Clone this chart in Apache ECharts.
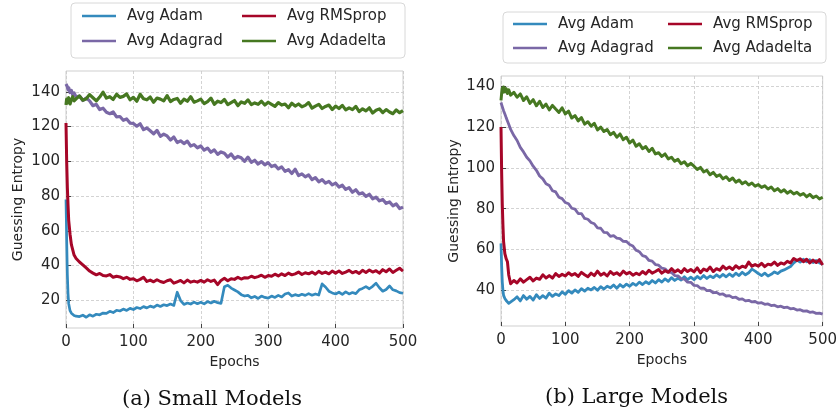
<!DOCTYPE html>
<html>
<head>
<meta charset="utf-8">
<title>Guessing Entropy per optimizer</title>
<script src="https://cdn.jsdelivr.net/npm/echarts@6/dist/echarts.min.js"></script>
<style>
  html, body { margin: 0; padding: 0; background: #fff; }
  #chart { width: 840px; height: 420px; }
</style>
</head>
<body>
<div id="chart"></div>
<script>
// Epochs sampled for every curve (dense at the start where the drop happens)
const epochs = [0, 1, 2, 3, 4, 6, 8, 10, 12, 15,
  20, 25, 30, 35, 40, 45, 50, 55, 60, 65, 70, 75, 80, 85, 90, 95,
  100, 105, 110, 115, 120, 125, 130, 135, 140, 145, 150, 155, 160, 165, 170, 175, 180, 185, 190, 195,
  200, 205, 210, 215, 220, 225, 230, 235, 240, 245, 250, 255, 260, 265, 270, 275, 280, 285, 290, 295,
  300, 305, 310, 315, 320, 325, 330, 335, 340, 345, 350, 355, 360, 365, 370, 375, 380, 385, 390, 395,
  400, 405, 410, 415, 420, 425, 430, 435, 440, 445, 450, 455, 460, 465, 470, 475, 480, 485, 490, 495, 500];

const seriesNames = ['Avg Adam', 'Avg Adagrad', 'Avg RMSprop', 'Avg Adadelta'];
const seriesColors = ['#348ABD', '#7A68A6', '#A60628', '#467821'];
const yTicks = [20, 40, 60, 80, 100, 120, 140];
const xTicks = [0, 100, 200, 300, 400, 500];
const captions = ['(a) Small Models', '(b) Large Models'];

// (a) Small models
const smallAdam = [78, 55, 35, 24, 18, 14, 12.5, 11.8, 11.2, 10.8,
  10.6, 11.4, 10.2, 11.6, 10.8, 11.9, 11.6, 12.6, 12.4, 13.6, 12.9, 14.2, 13.8, 14.9, 14.1, 15.3,
  14.6, 15.8, 15.2, 16.3, 15.6, 16.6, 15.9, 17.2, 16.4, 17.4, 16.9, 17.8, 17.0, 24.6, 19.8, 17.6, 18.4, 17.8, 18.9, 18.0,
  18.8, 17.9, 19.2, 18.4, 19.4, 18.6, 18.2, 27.8, 28.6, 27.0, 25.9, 24.8, 23.2, 22.4, 22.8, 21.4, 22.2, 21.0, 22.4, 21.6,
  21.2, 22.4, 21.6, 22.8, 21.9, 23.6, 24.2, 22.4, 23.2, 22.6, 23.4, 22.8, 23.8, 22.9, 23.6, 23.0, 29.4, 27.6, 25.2, 24.2,
  23.6, 24.6, 23.4, 24.8, 23.6, 24.4, 23.8, 26.0, 26.8, 27.8, 26.6, 28.0, 29.8, 27.2, 25.2, 26.2, 28.2, 26.0, 25.4, 24.4, 24.0];

const smallAdagrad = [144.5, 145.5, 143.0, 141.2, 142.4, 139.6, 140.8, 138.2, 139.4, 137.0,
  137.6, 135.0, 136.4, 134.8, 132.0, 132.8, 129.8, 130.6, 128.2, 127.4, 128.4, 125.6, 125.8, 123.6, 124.4, 122.0,
  121.8, 120.2, 121.6, 118.2, 119.2, 117.6, 115.8, 117.8, 114.4, 115.6, 114.6, 112.2, 114.0, 110.8, 111.8, 110.2, 111.6, 108.8, 109.6, 107.8,
  108.8, 106.4, 107.6, 105.2, 106.6, 104.0, 105.4, 104.6, 102.4, 104.2, 101.6, 102.8, 102.0, 100.0, 102.4, 99.4, 100.6, 98.4, 99.8, 98.0,
  99.2, 97.0, 97.8, 95.6, 96.8, 94.2, 95.2, 93.0, 95.4, 91.8, 92.8, 91.0, 92.2, 89.4, 90.6, 88.2, 89.4, 87.4, 88.4, 86.4,
  87.4, 85.2, 86.2, 83.8, 84.8, 82.2, 83.6, 81.2, 81.8, 79.8, 81.0, 78.4, 79.4, 77.2, 78.0, 75.8, 76.6, 74.4, 75.4, 72.8, 73.6];

const smallRMSprop = [122, 100, 85, 75, 66, 58, 52, 49, 46, 44,
  42.0, 40.4, 38.6, 36.8, 35.6, 34.6, 35.4, 34.2, 34.0, 34.8, 33.2, 33.8, 33.4, 32.4, 33.2, 32.0,
  32.4, 31.2, 32.0, 33.2, 30.8, 31.6, 30.6, 31.8, 30.8, 30.2, 31.2, 31.8, 29.8, 30.6, 31.4, 30.0, 31.6, 30.4, 31.0, 30.4,
  31.4, 30.4, 31.8, 30.8, 31.6, 29.0, 31.4, 32.6, 31.2, 32.4, 32.0, 33.2, 32.2, 33.0, 32.8, 33.8, 33.0, 33.6, 34.4, 33.2,
  34.2, 33.8, 35.0, 34.0, 35.2, 34.2, 35.6, 34.6, 35.2, 36.2, 34.8, 35.8, 35.2, 36.2, 35.0, 36.6, 35.4, 36.2, 35.2, 36.8,
  35.6, 36.8, 35.4, 36.2, 37.2, 35.8, 36.6, 35.4, 37.2, 36.0, 37.4, 36.2, 37.0, 35.6, 37.6, 36.4, 38.0, 36.0, 37.2, 38.4, 36.8];

const smallAdadelta = [132.4, 135.8, 133.6, 134.2, 136.6, 133.0, 135.4, 137.2, 134.8, 136.0,
  137.6, 135.2, 136.0, 138.4, 136.6, 134.8, 137.0, 139.8, 136.4, 137.2, 135.6, 138.6, 136.8, 137.4, 138.8, 135.4,
  136.8, 134.6, 138.6, 136.0, 135.4, 137.0, 134.0, 136.4, 135.8, 134.8, 137.8, 134.4, 135.6, 136.2, 133.4, 135.8, 134.6, 137.2, 134.0, 134.8,
  135.8, 133.2, 134.4, 136.4, 132.8, 134.6, 133.8, 135.6, 132.6, 133.8, 135.0, 132.0, 134.2, 133.4, 135.4, 132.6, 133.6, 132.8, 134.6, 132.4,
  134.0, 132.8, 131.6, 133.8, 132.4, 133.0, 130.8, 133.4, 131.8, 133.0, 131.4, 132.2, 133.8, 130.6, 131.8, 132.8, 130.4, 131.6, 132.4, 129.8,
  131.8, 130.4, 132.2, 129.6, 130.8, 129.8, 131.6, 128.6, 130.2, 129.0, 130.8, 127.8, 129.4, 130.2, 128.0, 129.8, 128.4, 127.4, 129.6, 128.0, 129.2];

// (b) Large models
const largeAdam = [63, 52, 44, 40, 37.5, 36.0, 35.0, 34.2, 33.6, 33.4,
  35.4, 36.8, 34.8, 37.4, 35.6, 37.0, 35.2, 37.8, 36.0, 37.4, 36.2, 38.6, 37.0, 38.2, 37.4, 39.2,
  38.0, 39.8, 38.6, 40.2, 39.0, 40.8, 39.6, 41.0, 40.2, 41.4, 40.0, 41.8, 40.6, 42.0, 41.2, 42.6, 41.0, 42.8, 41.6, 43.0,
  42.0, 43.4, 42.4, 44.0, 42.8, 44.2, 43.2, 44.8, 43.6, 45.2, 44.0, 45.6, 44.4, 46.2, 44.8, 46.0, 45.0, 46.6, 45.2, 46.4,
  45.2, 46.8, 45.6, 47.2, 45.8, 47.0, 46.2, 47.6, 46.4, 47.8, 46.6, 48.0, 46.8, 48.4, 47.2, 48.8, 47.6, 48.6, 50.4, 49.4,
  48.2, 47.2, 48.4, 47.0, 47.8, 49.0, 48.2, 49.4, 50.0, 50.8, 51.6, 53.4, 54.8, 53.8, 55.2, 54.0, 55.0, 53.6, 54.6, 53.4, 52.8];

const largeAdagrad = [132, 131.2, 130.0, 129.2, 128.0, 126.4, 124.6, 123.0, 121.4, 118.8,
  115.8, 113.4, 110.0, 107.8, 105.2, 103.4, 100.8, 98.8, 96.0, 94.6, 92.2, 91.4, 88.8, 88.2, 85.6, 84.9,
  83.0, 82.4, 80.2, 79.8, 77.6, 77.6, 75.2, 74.8, 73.2, 72.6, 70.6, 70.4, 68.4, 68.2, 66.4, 66.8, 65.6, 65.3, 64.0, 63.9,
  62.4, 61.7, 59.6, 58.9, 57.0, 56.5, 54.6, 54.3, 52.6, 52.3, 50.8, 50.5, 49.0, 48.7, 47.2, 47.1, 45.6, 45.5, 44.0, 43.9,
  42.4, 42.3, 41.0, 41.1, 39.8, 39.9, 38.8, 39.0, 38.0, 38.2, 37.2, 37.4, 36.4, 36.6, 35.6, 35.8, 34.8, 35.1, 34.3, 34.5,
  33.7, 33.9, 33.1, 33.3, 32.5, 32.7, 31.9, 32.2, 31.5, 31.7, 30.9, 31.1, 30.3, 30.5, 29.8, 29.9, 29.2, 29.4, 28.7, 28.8, 28.3];

const largeRMSprop = [120, 98, 82, 72, 64, 58, 55.5, 54.0, 47.5, 43.2,
  44.8, 43.6, 45.6, 44.0, 45.2, 46.4, 44.6, 46.0, 45.4, 47.6, 46.0, 47.2, 46.0, 48.2, 46.8, 47.8,
  47.0, 48.6, 47.4, 48.2, 46.8, 48.8, 47.6, 46.6, 48.4, 47.2, 49.4, 47.4, 48.4, 47.0, 49.2, 47.8, 48.6, 47.4, 49.4, 48.0,
  48.8, 47.4, 48.4, 47.6, 49.2, 48.0, 49.8, 48.4, 49.2, 50.2, 48.4, 49.6, 48.8, 50.6, 49.0, 50.0, 48.6, 50.6, 49.2, 50.2,
  49.0, 51.0, 48.6, 50.4, 49.6, 51.4, 49.2, 50.6, 49.8, 51.8, 50.4, 51.4, 50.2, 52.0, 50.8, 51.8, 51.2, 53.8, 51.8, 52.6,
  51.8, 53.2, 51.6, 52.8, 52.4, 53.8, 52.2, 53.4, 52.8, 54.2, 53.4, 55.6, 54.6, 55.4, 54.0, 55.2, 53.4, 54.8, 53.6, 55.0, 52.4];

const largeAdadelta = [133, 136.5, 139.0, 137.0, 139.6, 137.2, 138.8, 136.4, 138.2, 135.6,
  137.0, 134.6, 136.2, 133.0, 134.8, 131.6, 133.4, 130.4, 132.6, 129.6, 131.2, 128.4, 130.6, 128.8, 127.2, 129.4,
  126.4, 127.8, 124.4, 125.6, 123.0, 124.6, 121.4, 122.6, 120.4, 121.8, 118.6, 120.0, 117.8, 118.8, 116.2, 117.4, 115.0, 116.6, 113.8, 115.0,
  112.2, 113.6, 110.6, 111.8, 109.4, 110.4, 108.0, 109.6, 106.8, 107.4, 105.6, 106.8, 104.4, 105.2, 103.2, 104.2, 102.0, 103.0, 101.0, 102.2,
  100.8, 99.2, 100.2, 98.0, 98.8, 96.6, 97.8, 95.8, 96.6, 94.6, 95.6, 93.8, 95.0, 93.0, 94.0, 92.2, 93.2, 91.6, 92.6, 91.0,
  91.8, 90.4, 91.2, 89.6, 90.6, 88.8, 89.8, 88.2, 89.2, 87.6, 88.6, 87.2, 88.0, 86.6, 87.4, 85.8, 87.0, 85.4, 86.2, 84.8, 85.6];

const smallSets = [smallAdam, smallAdagrad, smallRMSprop, smallAdadelta];
const largeSets = [largeAdam, largeAdagrad, largeRMSprop, largeAdadelta];
// stroke widths per panel, per optimizer (noisier curves read as thicker bands)
const strokeWidths = [[2.7, 3.2, 3.0, 3.2], [2.8, 2.8, 3.0, 3.0]];

const FONT = 'DejaVu Sans';
const TEXT = '#262626';
const GRID_LINE = { show: true, lineStyle: { color: '#c8c8c8', type: [3, 2], width: 0.8 } };

function pairs(values) {
  return epochs.map((e, i) => [e, values[i]]);
}

function makeAxes(gridIndex, yMin, yMax, nameGapY, nameGapX) {
  const x = {
    type: 'value', gridIndex, min: 0, max: 500, interval: 100,
    name: 'Epochs', nameLocation: 'middle', nameGap: nameGapX,
    nameTextStyle: { fontFamily: FONT, fontSize: 14, color: TEXT },
    axisLine: { show: false },
    axisTick: { show: true, inside: true, length: 4, lineStyle: { color: '#444', width: 1 } },
    axisLabel: { fontFamily: FONT, fontSize: 15, color: TEXT, margin: 7, customValues: xTicks },
    splitLine: GRID_LINE
  };
  const y = {
    type: 'value', gridIndex, min: yMin, max: yMax,
    name: 'Guessing Entropy', nameLocation: 'middle', nameGap: nameGapY,
    nameTextStyle: { fontFamily: FONT, fontSize: 14, color: TEXT },
    axisLine: { show: false },
    axisTick: { show: true, inside: true, length: 5, customValues: yTicks, lineStyle: { color: '#444', width: 1 } },
    axisLabel: { fontFamily: FONT, fontSize: 15, color: TEXT, margin: 6, customValues: yTicks },
    splitLine: GRID_LINE
  };
  return { x, y };
}

const left = makeAxes(0, 4, 152, 41, 25);
const right = makeAxes(1, 22.5, 145, 40, 22);

const series = [];
[smallSets, largeSets].forEach((sets, g) => {
  sets.forEach((vals, i) => {
    series.push({
      name: seriesNames[i], type: 'line', xAxisIndex: g, yAxisIndex: g,
      data: pairs(vals), showSymbol: false, symbol: 'none', smooth: false,
      lineStyle: { color: seriesColors[i], width: strokeWidths[g][i], join: 'round' },
      itemStyle: { color: seriesColors[i] },
      emphasis: { disabled: true }, animation: false, z: 2 + i
    });
  });
});

// One legend entry per slot, laid out as two columns by two rows
const legendSlots = [
  // [x of swatch, y of row centre] for each panel
  { name: 'Avg Adam', pos: [[82, 16], [513, 24]] },
  { name: 'Avg Adagrad', pos: [[82, 41], [513, 48]] },
  { name: 'Avg RMSprop', pos: [[242, 16], [668, 24]] },
  { name: 'Avg Adadelta', pos: [[242, 41], [668, 48]] }
];
const legends = [];
legendSlots.forEach(slot => {
  slot.pos.forEach(p => {
    legends.push({
      data: [{ name: slot.name, icon: 'rect' }],
      left: p[0], top: p[1] - 9, padding: 0,
      itemWidth: 34, itemHeight: 2.6, selectedMode: false,
      textStyle: { fontFamily: FONT, fontSize: 15, color: TEXT, lineHeight: 18, padding: [0, 0, 0, 6] }
    });
  });
});

const chart = echarts.init(document.getElementById('chart'), null, { renderer: 'canvas' });
chart.setOption({
  backgroundColor: '#ffffff',
  animation: false,
  grid: [
    { left: 66, top: 71, width: 337, height: 257, show: true, borderColor: '#cfcfcf', borderWidth: 1, backgroundColor: 'transparent' },
    { left: 501, top: 76, width: 325, height: 250, show: true, borderColor: '#cfcfcf', borderWidth: 1, backgroundColor: 'transparent' }
  ],
  xAxis: [left.x, right.x],
  yAxis: [left.y, right.y],
  legend: legends,
  series,
  graphic: [
    { type: 'rect', shape: { x: 71, y: 3, width: 334, height: 55, r: 4 }, style: { fill: 'none', stroke: '#d8d8d8', lineWidth: 1 }, silent: true },
    { type: 'rect', shape: { x: 503, y: 12, width: 323, height: 51, r: 4 }, style: { fill: 'none', stroke: '#d8d8d8', lineWidth: 1 }, silent: true },
    { type: 'text', left: 122, top: 389, style: { text: captions[0], font: '21px "DejaVu Serif"', fill: '#111' } },
    { type: 'text', left: 545, top: 387, style: { text: captions[1], font: '21px "DejaVu Serif"', fill: '#111' } }
  ]
});
</script>
</body>
</html>
